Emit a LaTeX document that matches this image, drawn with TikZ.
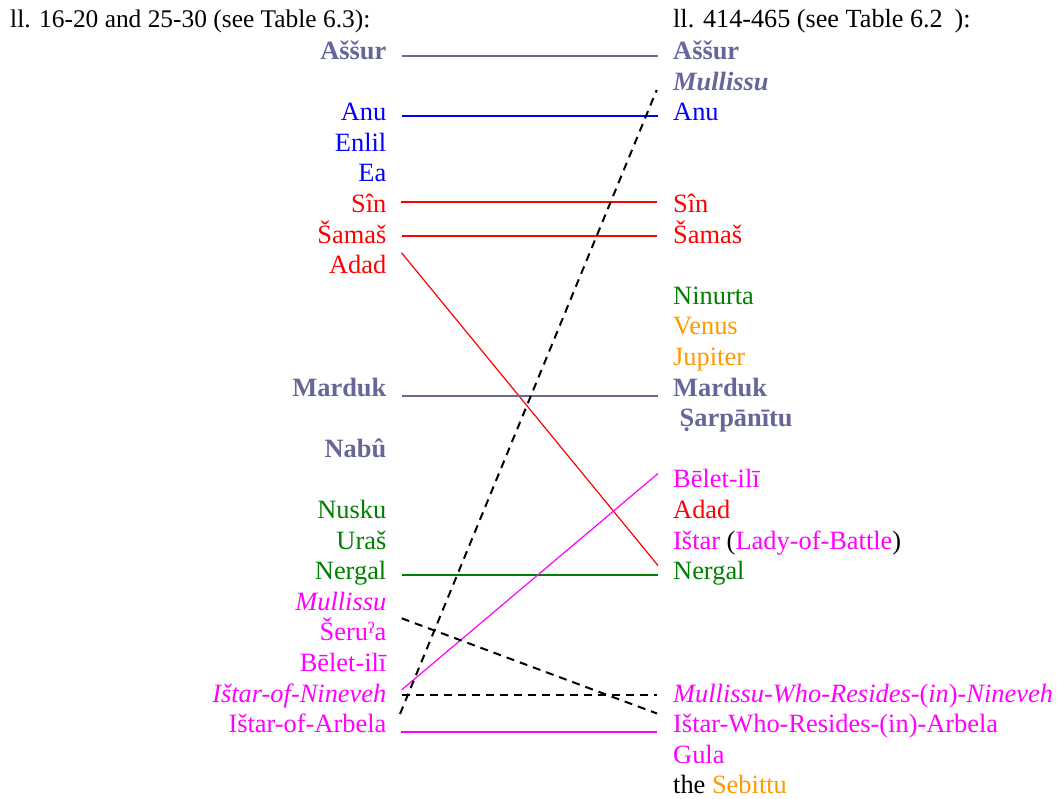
\documentclass[tikz,border=0pt]{standalone}
\usepackage{fontspec}
\setmainfont{Liberation Serif}
\definecolor{slate}{RGB}{102,102,153}
\definecolor{dgreen}{RGB}{0,128,0}
\definecolor{orng}{RGB}{255,153,0}
\definecolor{mgnt}{RGB}{255,0,255}
\definecolor{blu}{RGB}{0,0,255}
\definecolor{rd}{RGB}{255,0,0}
\newcommand\lblsize{\fontsize{26.5}{31}\selectfont}
\begin{document}
\begin{tikzpicture}[x=1bp,y=-1bp,
  lbl/.style={inner sep=0pt, font=\lblsize},
  lft/.style={lbl, anchor=base east},
  rgt/.style={lbl, anchor=base west},
  boldlbl/.style={font=\lblsize\bfseries},
  itlbl/.style={font=\lblsize\itshape},
  link/.style={line width=1.2bp},
  dlink/.style={line width=2bp, dash pattern=on 8bp off 6bp, black}]
\useasboundingbox (0,0) rectangle (1060,799);
% titles
\node[rgt, font=\fontsize{25.5}{30}\selectfont] (tL) at (10,28) {ll. 16-20 and 25-30 (see Table 6.3):};
\node[rgt, font=\fontsize{26.3}{30}\selectfont] (tR) at (673,28) {ll. 414-465 (see Table 6.2\hspace{0.45em}):};
% left column
\node[lft, text=slate, boldlbl] (lAssur) at (386.5,59.5) {Aššur};
\node[lft, text=blu] (lAnu) at (386.5,120.7) {Anu};
\node[lft, text=blu] (lEnlil) at (386.5,151.3) {Enlil};
\node[lft, text=blu] (lEa) at (386.5,181.9) {Ea};
\node[lft, text=rd] (lSin) at (386.5,212.5) {Sîn};
\node[lft, text=rd] (lSamas) at (386.5,243.1) {Šamaš};
\node[lft, text=rd] (lAdad) at (386.5,273.7) {Adad};
\node[lft, text=slate, boldlbl] (lMarduk) at (386.5,396.1) {Marduk};
\node[lft, text=slate, boldlbl] (lNabu) at (386.5,457.3) {Nabû};
\node[lft, text=dgreen] (lNusku) at (386.5,518.5) {Nusku};
\node[lft, text=dgreen] (lUras) at (386.5,549.1) {Uraš};
\node[lft, text=dgreen] (lNergal) at (386.5,579.7) {Nergal};
\node[lft, text=mgnt, itlbl] (lMullissu) at (386.5,610.3) {Mullissu};
\node[lft, text=mgnt] (lSerua) at (386.5,640.9) {Šeruˀa};
\node[lft, text=mgnt] (lBelet) at (386.5,671.5) {Bēlet-ilī};
\node[lft, text=mgnt, itlbl] (lNineveh) at (386.5,702.1) {Ištar-of-Nineveh};
\node[lft, text=mgnt] (lArbela) at (386.5,732.7) {Ištar-of-Arbela};
% right column
\node[rgt, text=slate, boldlbl] (rAssur) at (673,59.5) {Aššur};
\node[rgt, text=slate, font=\lblsize\bfseries\itshape] (rMullissu) at (673,90.1) {Mullissu};
\node[rgt, text=blu] (rAnu) at (673,120.7) {Anu};
\node[rgt, text=rd] (rSin) at (673,212.5) {Sîn};
\node[rgt, text=rd] (rSamas) at (673,243.1) {Šamaš};
\node[rgt, text=dgreen] (rNinurta) at (673,304.3) {Ninurta};
\node[rgt, text=orng] (rVenus) at (673,334.9) {Venus};
\node[rgt, text=orng] (rJupiter) at (673,365.5) {Jupiter};
\node[rgt, text=slate, boldlbl] (rMarduk) at (673,396.1) {Marduk};
\node[rgt, text=slate, boldlbl] (rSarpanitu) at (679.5,426.7) {Ṣarpānītu};
\node[rgt, text=mgnt] (rBelet) at (673,487.9) {Bēlet-ilī};
\node[rgt, text=rd] (rAdad) at (673,518.5) {Adad};
\node[rgt, text=mgnt] (rIstar) at (673,549.1) {Ištar {\color{black}(}Lady-of-Battle{\color{black})}};
\node[rgt, text=dgreen] (rNergal) at (673,579.7) {Nergal};
\node[rgt, text=mgnt] (rMulNin) at (673,702.1) {\itshape Mullissu-Who-Resides\upshape-(\itshape in\upshape)-\itshape Nineveh};
\node[rgt, text=mgnt] (rIstArb) at (673,732.7) {Ištar-Who-Resides-(in)-Arbela};
\node[rgt, text=mgnt] (rGula) at (673,763.3) {Gula};
\node[rgt] (rSeb) at (673,793.9) {the {\color{orng}Sebittu}};
% connector end points
\coordinate (cAssurL) at (401.5,56);  \coordinate (cAssurR) at (657.5,56);
\coordinate (cAnuL) at (401.5,116);   \coordinate (cAnuR) at (657.5,116);
\coordinate (cSinL) at (400.5,202);   \coordinate (cSinR) at (657,202);
\coordinate (cSamasL) at (401.5,236); \coordinate (cSamasR) at (657,236);
\coordinate (cAdadL) at (401.5,252.7);  \coordinate (cNergalDiagR) at (658,565.5);
\coordinate (cMardukL) at (401.5,396);  \coordinate (cMardukR) at (657.5,396);
\coordinate (cNergalL) at (401.5,575);  \coordinate (cNergalR) at (657.5,575);
\coordinate (cNinevehL) at (401.5,690); \coordinate (cBeletR) at (658,473.5);
\coordinate (cArbelaL) at (400.5,732); \coordinate (cArbelaR) at (657,732);
\coordinate (cLongL) at (400,714);      \coordinate (cMullissuR) at (656.7,90);
\coordinate (cMullissuL) at (401.7,618.3); \coordinate (cIstArbR) at (657,713.5);
\coordinate (cNinHorL) at (401.7,695); \coordinate (cMulNinR) at (657,695);
% connectors
\draw[link, slate] (cAssurL) -- (cAssurR);
\draw[link, blu] (cAnuL) -- (cAnuR);
\draw[link, rd] (cSinL) -- (cSinR);
\draw[link, rd] (cSamasL) -- (cSamasR);
\draw[link, rd] (cAdadL) -- (cNergalDiagR);
\draw[link, slate] (cMardukL) -- (cMardukR);
\draw[link, dgreen] (cNergalL) -- (cNergalR);
\draw[link, mgnt] (cNinevehL) -- (cBeletR);
\draw[link, mgnt] (cArbelaL) -- (cArbelaR);
\draw[dlink] (cLongL) -- (cMullissuR);
\draw[dlink] (cMullissuL) -- (cIstArbR);
\draw[dlink] (cNinHorL) -- (cMulNinR);
\end{tikzpicture}
\end{document}
